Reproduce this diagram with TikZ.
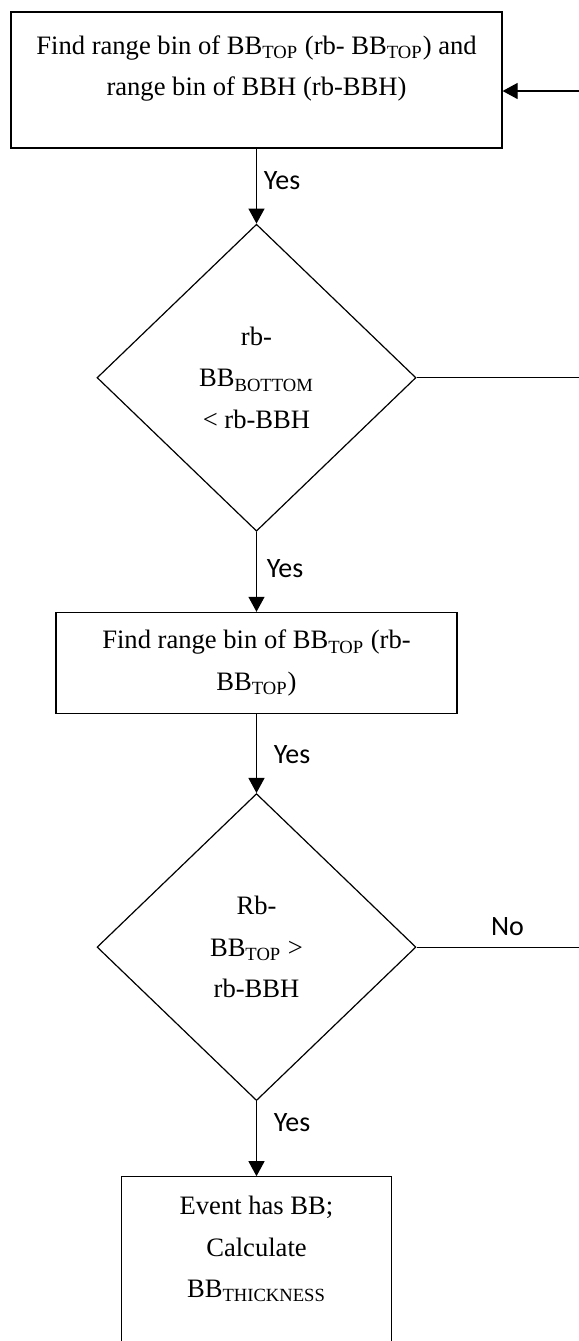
\documentclass[tikz,border=0pt]{standalone}
\usepackage{fontspec}
\setmainfont{Liberation Serif}
\newfontfamily\labelfont{Carlito}
\usetikzlibrary{arrows.meta,positioning,shapes.geometric}

\begin{document}
\begin{tikzpicture}[
      x=0.5pt,y=-0.5pt,
      line width=0.6pt,
      node distance=37.5pt,
      every node/.style={font=\fontsize{13.3}{20.75}\selectfont},
      box/.style={draw,align=center,inner sep=0pt},
      decision/.style={draw,diamond,align=center,inner sep=1pt,minimum width=159.5pt,minimum height=153.5pt},
      arr/.style={-{Triangle[length=7.5pt,width=8pt]}},
      lab/.style={font=\labelfont\fontsize{14}{16.8}\selectfont}
    ]
    \useasboundingbox (0,0) rectangle (579,1341);
    \node[box,minimum width=245.5pt,minimum height=68pt] (find1) at (256.5,80) {Find range bin of BB\textsubscript{TOP} (rb- BB\textsubscript{TOP}) and\\range bin of BBH (rb-BBH)\\[-6.3pt]\mbox{}};
    \node[decision,below=of find1] (cmp1) {rb-\\BB\textsubscript{BOTTOM}\\< rb-BBH};
    \node[box,minimum width=200.5pt,minimum height=50.5pt,below=40pt of cmp1] (find2) {Find range bin of BB\textsubscript{TOP} (rb-\\BB\textsubscript{TOP})};
    \node[decision,below=39.5pt of find2] (cmp2) {Rb-\\BB\textsubscript{TOP} >\\rb-BBH};
    \node[box,minimum width=135pt,minimum height=90pt,below=of cmp2] (result) {Event has BB;\\Calculate\\BB\textsubscript{THICKNESS}\\[-0.8pt]\mbox{}};
    \coordinate (loop) at (579,91);
    \draw[arr] (find1) -- node[lab,right,pos=0.43] {Yes} (cmp1);
    \draw[arr] (cmp1) -- node[lab,right=1.5pt,pos=0.46] {Yes} (find2);
    \draw[arr] (find2) -- node[lab,right=5pt,pos=0.52] {Yes} (cmp2);
    \draw[arr] (cmp2) -- node[lab,right=5pt,pos=0.29] {Yes} (result);
    \draw[arr] (loop) -- (loop -| find1.east);
    \draw (cmp1.east) -- (cmp1.east -| loop);
    \draw (cmp2.east) -- node[lab,above=2pt,pos=0.56] {No} (cmp2.east -| loop);
  \end{tikzpicture}
\end{document}
